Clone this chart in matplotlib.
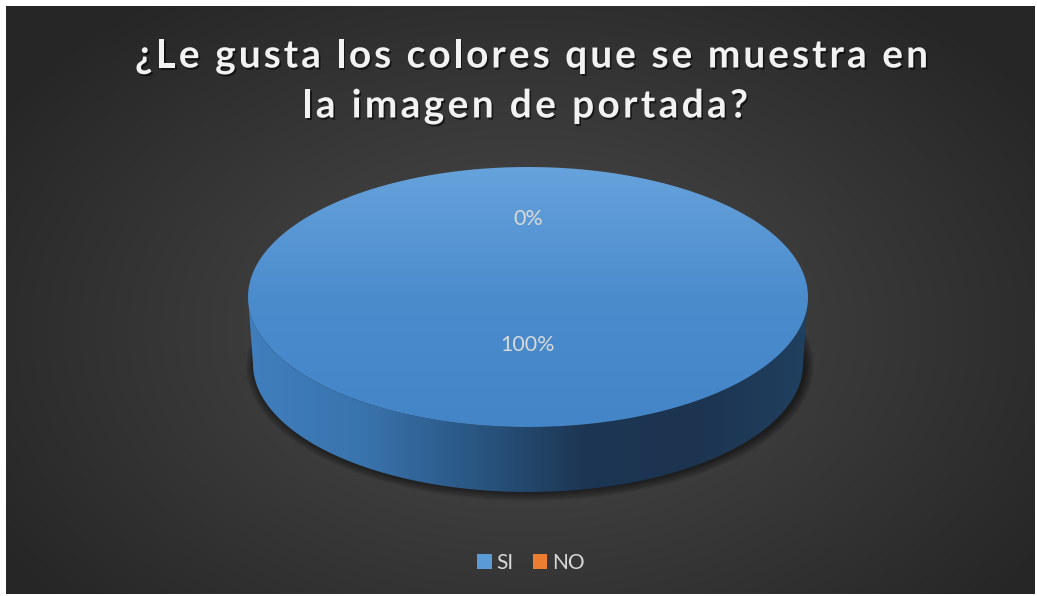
import numpy as np
import matplotlib.pyplot as plt
import matplotlib.patches as mplpatches
import matplotlib.patheffects as pe
from matplotlib.path import Path
from matplotlib.colors import LinearSegmentedColormap

plt.rcParams['font.family'] = ['Lato', 'DejaVu Sans']

categories = ['SI', 'NO']
values = [100, 0]
colors = ['#5b9bd5', '#ed7d31']
title_lines = ['¿Le gusta los colores que se muestra en', 'la imagen de portada?']

W, H = 1037, 596
fig = plt.figure(figsize=(W / 100, H / 100), dpi=100)
fig.patch.set_facecolor('white')
ax = fig.add_axes([0, 0, 1, 1])
ax.set_xlim(0, W)
ax.set_ylim(H, 0)
ax.axis('off')

# dark radial background inside the chart area
x0, x1, y0, y1 = 6, 1035, 6, 594
gx, gy = np.meshgrid(np.linspace(x0, x1, 400), np.linspace(y0, y1, 240))
r = np.sqrt(((gx - 525) / 620) ** 2 + ((gy - 330) / 420) ** 2)
r = np.clip(r, 0, 1)
shade = 0.30 - 0.15 * r
bg = np.dstack([shade, shade, shade])
ax.imshow(bg, extent=[x0, x1, y1, y0], aspect='auto', zorder=0, interpolation='bilinear')

# pie geometry (pixels)
cx, cy = 528, 297
rx, ry = 280, 130
rxb, ryb = 275, 128
depth = 67


def ell(a, px, py, ax_, ay_):
    return px + ax_ * np.cos(a), py + ay_ * np.sin(a)


# soft shadow under the base
for k in range(10):
    e = mplpatches.Ellipse((cx + 2, cy + depth + 2), 2 * (rxb + 9 - k), 2 * (ryb + 7 - k),
                           facecolor='black', edgecolor='none', alpha=0.06, zorder=1)
    ax.add_patch(e)

# side wall (front half) with horizontal gradient
t = np.linspace(0, np.pi, 200)
tx, ty = ell(t, cx, cy, rx, ry)
bx, by = ell(t[::-1], cx, cy + depth, rxb, ryb)
side_pts = np.concatenate([np.column_stack([tx, ty]), np.column_stack([bx, by])])
side_path = Path(np.vstack([side_pts, side_pts[:1]]), closed=True)
side_cmap = LinearSegmentedColormap.from_list('side', ['#407ebd', '#3a74ae', '#2a5784', '#1d3653', '#1c3450', '#20405f'])
grad = np.linspace(0, 1, 256).reshape(1, -1)
im_side = ax.imshow(grad, cmap=side_cmap, extent=[cx - rx, cx + rx, cy + depth + ryb + 2, cy - 2],
                    aspect='auto', zorder=2)
side_patch = mplpatches.PathPatch(side_path, facecolor='none', edgecolor='none')
ax.add_patch(side_patch)
im_side.set_clip_path(side_patch)

# top face, one wedge per category, clockwise from 12 o'clock
total = sum(values)
start = -np.pi / 2
top_cmap = {
    '#5b9bd5': LinearSegmentedColormap.from_list('top0', ['#66a2db', '#4b8ccd', '#4485c8']),
    '#ed7d31': LinearSegmentedColormap.from_list('top1', ['#f28a45', '#dd6f26']),
}
label_frac = [0.37, 0.6]
for val, col, lf in zip(values, colors, label_frac):
    sweep = 2 * np.pi * val / total
    mid = start + sweep / 2
    if sweep > 0:
        a = np.linspace(start, start + sweep, 300)
        px, py = ell(a, cx, cy, rx, ry)
        if sweep < 2 * np.pi - 1e-9:
            px = np.concatenate([[cx], px])
            py = np.concatenate([[cy], py])
        pts = np.column_stack([px, py])
        wedge_path = Path(np.vstack([pts, pts[:1]]), closed=True)
        wp = mplpatches.PathPatch(wedge_path, facecolor='none', edgecolor='none')
        ax.add_patch(wp)
        vgrad = np.linspace(0, 1, 256).reshape(-1, 1)
        im_top = ax.imshow(vgrad, cmap=top_cmap[col], extent=[cx - rx, cx + rx, cy + ry, cy - ry],
                           aspect='auto', zorder=3)
        im_top.set_clip_path(wp)
    lx, ly = ell(mid, cx, cy, rx * lf, ry * lf)
    ax.text(lx, ly, f'{val:.0f}%', color='#d9d9d9', fontsize=15.5, ha='center', va='center', zorder=5)
    start += sweep

# title with letter spacing
fig.canvas.draw()
rend = fig.canvas.get_renderer()
title_fx = [pe.SimplePatchShadow(offset=(1.2, -1.5), shadow_rgbFace='black', alpha=0.55), pe.Normal()]


def text_w(s, size):
    tt = ax.text(0, 0, s + '|', fontsize=size, fontweight='bold')
    w = tt.get_window_extent(rend).width
    tt.remove()
    bar = ax.text(0, 0, '|', fontsize=size, fontweight='bold')
    wb = bar.get_window_extent(rend).width
    bar.remove()
    return w - wb


title_size = 28
spans = [(135, 928), (303, 748)]
line_y = [56, 106]
for line, (xa, xb), yy in zip(title_lines, spans, line_y):
    natural = text_w(line, title_size)
    sp = (xb - xa - natural) / (len(line) - 1)
    for i, ch in enumerate(line):
        if ch == ' ':
            continue
        xpos = xa + text_w(line[:i], title_size) + i * sp
        ax.text(xpos, yy, ch, fontsize=title_size, fontweight='bold', color='#f2f2f2',
                ha='left', va='center', path_effects=title_fx, zorder=6)

# legend
handles = [mplpatches.Patch(facecolor=c, edgecolor='none') for c in colors]
fig.legend(handles, categories, loc='center', bbox_to_anchor=(531 / W, 1 - 563 / H), ncol=2,
           frameon=False, fontsize=15, labelcolor='#d9d9d9', handlelength=0.7, handleheight=0.7,
           handletextpad=0.25, columnspacing=0.9)

fig.savefig('out.png', dpi=100, facecolor='white')
